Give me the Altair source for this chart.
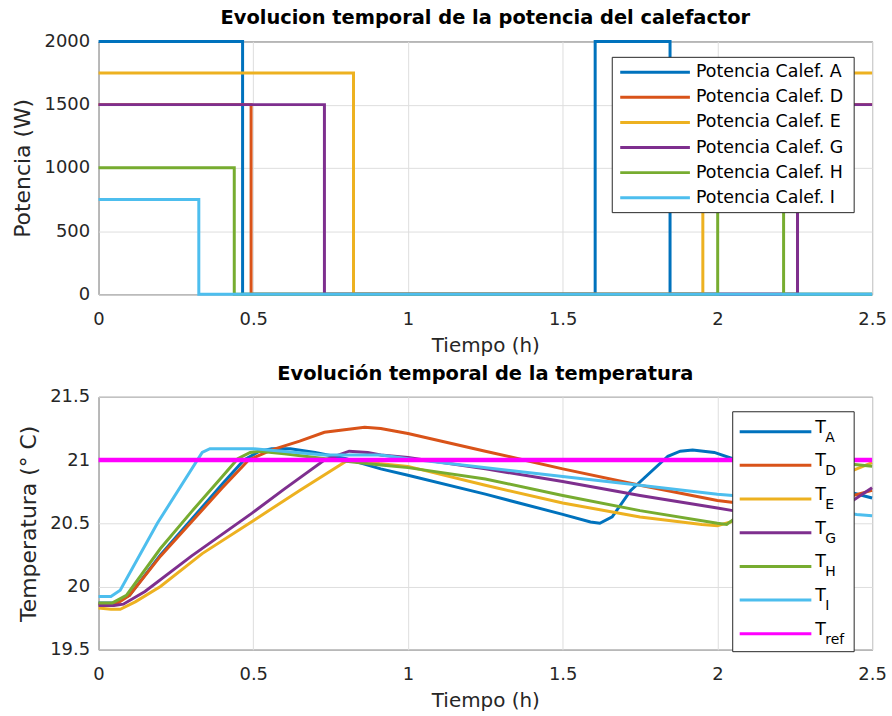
import altair as alt
import pandas as pd

FONT = "DejaVu Sans"

# ---------------- Power (W) data : step series ----------------
pow_names = ["Potencia Calef. A", "Potencia Calef. D", "Potencia Calef. E",
             "Potencia Calef. G", "Potencia Calef. H", "Potencia Calef. I"]
pow_t = {
    "Potencia Calef. A": [0, 0.4655, 1.605, 1.847, 2.5],
    "Potencia Calef. D": [0, 0.493, 2.259, 2.5],
    "Potencia Calef. E": [0, 0.824, 1.953, 2.5],
    "Potencia Calef. G": [0, 0.730, 2.259, 2.5],
    "Potencia Calef. H": [0, 0.4386, 2.001, 2.214, 2.5],
    "Potencia Calef. I": [0, 0.324, 2.5],
}
pow_p = {
    "Potencia Calef. A": [2000, 0, 2000, 0, 0],
    "Potencia Calef. D": [1500, 0, 1500, 1500],
    "Potencia Calef. E": [1750, 0, 1750, 1750],
    "Potencia Calef. G": [1500, 0, 1500, 1500],
    "Potencia Calef. H": [1000, 0, 1000, 0, 0],
    "Potencia Calef. I": [750, 0, 0],
}

# ---------------- Temperature data ----------------
temp_names = ["A", "D", "E", "G", "H", "I", "ref"]
temp_t = {
    "A": [0, 0.05, 0.1, 0.2, 0.3, 0.4, 0.47, 0.52, 0.56, 0.62, 0.7, 0.8, 0.912, 1.0,
          1.25, 1.5, 1.59, 1.62, 1.66, 1.72, 1.84, 1.88, 1.92, 1.99, 2.05, 2.25, 2.5],
    "D": [0, 0.056, 0.1, 0.2, 0.3, 0.4, 0.485, 0.56, 0.65, 0.73, 0.86, 0.912, 1.0,
          1.25, 1.5, 1.75, 2.0, 2.1, 2.26, 2.35, 2.5],
    "E": [0, 0.04, 0.07, 0.12, 0.2, 0.335, 0.5, 0.65, 0.8, 0.86, 0.912, 1.0, 1.25,
          1.5, 1.75, 1.95, 2.0, 2.1, 2.3, 2.5],
    "G": [0, 0.05, 0.08, 0.15, 0.3, 0.496, 0.6, 0.73, 0.81, 0.87, 0.912, 1.0, 1.25,
          1.5, 1.75, 2.0, 2.05, 2.2, 2.27, 2.35, 2.42, 2.5],
    "H": [0, 0.045, 0.09, 0.2, 0.3, 0.4, 0.45, 0.49, 0.52, 0.6, 0.8, 0.912, 1.0, 1.25,
          1.5, 1.75, 2.0, 2.03, 2.08, 2.2, 2.24, 2.3, 2.5],
    "I": [0, 0.04, 0.07, 0.19, 0.335, 0.36, 0.4, 0.5, 0.73, 0.912, 1.0, 1.5, 1.75,
          2.0, 2.05, 2.25, 2.45, 2.5],
    "ref": [0, 2.5],
}
temp_v = {
    "A": [19.87, 19.87, 19.93, 20.25, 20.53, 20.81, 21.0, 21.07, 21.09, 21.09, 21.06,
          21.01, 20.93, 20.88, 20.73, 20.57, 20.51, 20.5, 20.55, 20.76, 21.03, 21.07,
          21.08, 21.06, 21.01, 20.86, 20.7],
    "D": [19.86, 19.86, 19.93, 20.24, 20.51, 20.78, 21.0, 21.08, 21.15, 21.22, 21.26,
          21.25, 21.21, 21.07, 20.93, 20.8, 20.68, 20.65, 20.63, 20.66, 20.76],
    "E": [19.83, 19.82, 19.82, 19.88, 20.0, 20.26, 20.52, 20.76, 20.99, 21.0, 20.97,
          20.95, 20.8, 20.66, 20.55, 20.49, 20.48, 20.55, 20.78, 20.98],
    "G": [19.85, 19.85, 19.86, 19.96, 20.24, 20.58, 20.77, 21.0, 21.07, 21.06, 21.04,
          21.02, 20.93, 20.83, 20.72, 20.62, 20.6, 20.54, 20.53, 20.58, 20.65, 20.78],
    "H": [19.87, 19.87, 19.93, 20.3, 20.59, 20.87, 21.01, 21.06, 21.07, 21.05, 20.99,
          20.96, 20.94, 20.85, 20.72, 20.6, 20.5, 20.49, 20.58, 20.88, 20.98, 21.0, 20.95],
    "I": [19.92, 19.92, 19.97, 20.5, 21.06, 21.09, 21.09, 21.09, 21.04, 21.04, 21.01,
          20.87, 20.8, 20.73, 20.72, 20.65, 20.57, 20.56],
    "ref": [21, 21],
}
temp_width = {"A": 3, "D": 3, "E": 3, "G": 3, "H": 3, "I": 3, "ref": 4.5}

colors = ["#0072BD", "#D95319", "#EDB120", "#7E2F8E", "#77AC30", "#4DBEEE"]
ref_color = "#FF00FF"

x_ticks = [0, 0.5, 1, 1.5, 2, 2.5]
p_ticks = [0, 500, 1000, 1500, 2000]
t_ticks = [19.5, 20, 20.5, 21, 21.5]

# ---------------- Build tables ----------------
pow_rows = []
for n in pow_names:
    for t, p in zip(pow_t[n], pow_p[n]):
        pow_rows.append({"t": t, "P": p, "serie": n})
pow_df = pd.DataFrame(pow_rows)

temp_rows = []
for n in temp_names:
    for t, v in zip(temp_t[n], temp_v[n]):
        temp_rows.append({"t": t, "T": v, "serie": n, "w": temp_width[n]})
temp_df = pd.DataFrame(temp_rows)

pleg_df = pd.DataFrame({"serie": pow_names, "k": list(range(len(pow_names)))})
tleg_df = pd.DataFrame({"serie": temp_names, "k": list(range(len(temp_names)))})
one = pd.DataFrame({"a": [0]})

W, H = 777, 254

axis_common = dict(
    grid=True, gridColor="#dedede", gridWidth=1, ticks=False, domain=False,
    labelFont=FONT, labelFontSize=18, labelColor="#262626",
    titleFont=FONT, titleFontWeight="normal", titleColor="#262626",
)

x_axis = alt.Axis(values=x_ticks, format="~g", title="Tiempo (h)", labelPadding=16,
                  titlePadding=7, titleFontSize=20, labelFlush=False, **axis_common)

x_enc = alt.X("t:Q", scale=alt.Scale(domain=[0, 2.5], nice=False), axis=x_axis)

# ---------------- Top panel ----------------
pcolor = alt.Scale(domain=pow_names, range=colors)

plines = alt.Chart(pow_df).mark_line(interpolate="step-after", strokeWidth=3, clip=False).encode(
    x=x_enc,
    y=alt.Y("P:Q", scale=alt.Scale(domain=[0, 2000], nice=False),
            axis=alt.Axis(values=p_ticks, format="d", title="Potencia (W)", labelPadding=9,
                          titlePadding=8, titleFontSize=22, minExtent=56, maxExtent=56,
                          **axis_common)),
    color=alt.Color("serie:N", scale=pcolor, legend=None),
)

pbox = alt.Chart(one).mark_rect(fill="white", stroke="#262626", strokeWidth=1).encode(
    x=alt.value(516), x2=alt.value(759), y=alt.value(16), y2=alt.value(172))
pleg_y = alt.Y("k:Q", scale=alt.Scale(domain=[0, 5], range=[31, 157]), axis=None)
pleg_lines = alt.Chart(pleg_df).mark_rule(strokeWidth=3).encode(
    x=alt.value(524), x2=alt.value(594), y=pleg_y,
    color=alt.Color("serie:N", scale=pcolor, legend=None))
pleg_text = alt.Chart(pleg_df).mark_text(
    font=FONT, fontSize=17.5, align="left", baseline="middle", color="#000000"
).encode(x=alt.value(600), y=pleg_y, text="serie:N")

top = alt.layer(plines, pbox, pleg_lines, pleg_text).resolve_scale(
    y="independent"
).properties(
    width=W, height=H,
    title=alt.TitleParams("Evolucion temporal de la potencia del calefactor",
                          font=FONT, fontSize=19.5, fontWeight="bold", color="#000000",
                          anchor="middle", offset=4),
)

# ---------------- Bottom panel ----------------
tcolor = alt.Scale(domain=temp_names, range=colors + [ref_color])

tlines = alt.Chart(temp_df).mark_line(clip=False).encode(
    x=x_enc,
    y=alt.Y("T:Q", scale=alt.Scale(domain=[19.5, 21.5], nice=False),
            axis=alt.Axis(values=t_ticks, format="~g", title="Temperatura (° C)",
                          labelPadding=9, titlePadding=7, titleFontSize=22,
                          minExtent=51, maxExtent=51, **axis_common)),
    color=alt.Color("serie:N", scale=tcolor, legend=None),
    strokeWidth=alt.StrokeWidth("w:Q", scale=None, legend=None),
)

tbox = alt.Chart(one).mark_rect(fill="white", stroke="#262626", strokeWidth=1).encode(
    x=alt.value(637), x2=alt.value(759), y=alt.value(15), y2=alt.value(256))
tleg_y = alt.Y("k:Q", scale=alt.Scale(domain=[0, 6], range=[35, 238]), axis=None)
tleg_lines = alt.Chart(tleg_df).mark_rule(strokeWidth=3).encode(
    x=alt.value(644), x2=alt.value(716), y=tleg_y,
    color=alt.Color("serie:N", scale=tcolor, legend=None))
tleg_T = alt.Chart(tleg_df).mark_text(
    text="T", font=FONT, fontSize=17.5, align="left", baseline="middle", dy=-4, color="#000000"
).encode(x=alt.value(720), y=tleg_y)
tleg_sub = alt.Chart(tleg_df).mark_text(
    font=FONT, fontSize=14, align="left", baseline="middle", dy=6, color="#000000"
).encode(x=alt.value(730), y=tleg_y, text="serie:N")

bottom = alt.layer(tlines, tbox, tleg_lines, tleg_T, tleg_sub).resolve_scale(
    y="independent"
).properties(
    width=W, height=H,
    title=alt.TitleParams("Evolución temporal de la temperatura",
                          font=FONT, fontSize=19.5, fontWeight="bold", color="#000000",
                          anchor="middle", offset=3),
)

chart = alt.vconcat(top, bottom, spacing=8).resolve_scale(
    color="independent"
).properties(
    padding={"left": 11, "top": 6, "right": 5, "bottom": 0},
    background="white",
).configure_view(stroke="#262626", strokeWidth=1)

chart.save("out.html", embed_options={"renderer": "svg", "actions": False})
